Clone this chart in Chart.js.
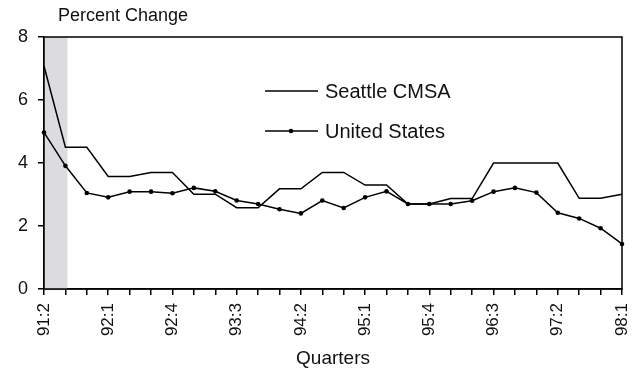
<!DOCTYPE html>
<html>
<head>
<meta charset="utf-8">
<script src="https://cdn.jsdelivr.net/npm/chart.js@4/dist/chart.umd.min.js"></script>
<style>
  body { margin: 0; background: #fff; }
  #grafico { display: block; }
</style>
</head>
<body>
<canvas id="grafico" width="637" height="370"></canvas>
<script>
const quarters = [
    "91:2", "91:3", "91:4",
    "92:1", "92:2", "92:3", "92:4",
    "93:1", "93:2", "93:3", "93:4",
    "94:1", "94:2", "94:3", "94:4",
    "95:1", "95:2", "95:3", "95:4",
    "96:1", "96:2", "96:3", "96:4",
    "97:1", "97:2", "97:3", "97:4",
    "98:1"
];
const seattle = [
    7.08, 4.5, 4.5, 3.57, 3.57, 3.7, 3.7, 3.01, 3.01, 2.58, 2.58, 3.18, 3.18, 3.7,
    3.7, 3.3, 3.3, 2.7, 2.7, 2.87, 2.87, 4.0, 4.0, 4.0, 4.0, 2.88, 2.88, 3.01
];
const unitedStates = [
    4.97, 3.91, 3.05, 2.91, 3.09, 3.09, 3.04, 3.21, 3.1, 2.81, 2.7, 2.53, 2.4, 2.81,
    2.57, 2.91, 3.1, 2.7, 2.7, 2.7, 2.8, 3.09, 3.21, 3.06, 2.42, 2.24, 1.93, 1.43
];
const yTicks = [0, 2, 4, 6, 8];
const recession = ["91:2", "91:3"];

const fuente = "'Liberation Sans', Arial, sans-serif";

// banda gris de la recesion
const bandaGris = {
    id: "bandaGris",
    beforeDatasetsDraw(chart) {
        const ctx = chart.ctx;
        const x = chart.scales.x;
        const area = chart.chartArea;
        const x0 = x.getPixelForValue(quarters.indexOf(recession[0]));
        const x1 = x.getPixelForValue(quarters.indexOf(recession[1])) + 2;
        ctx.save();
        ctx.fillStyle = "#dcdcde";
        ctx.fillRect(x0, area.top, x1 - x0, area.bottom - area.top);
        ctx.restore();
    }
};

// marco, titulo y leyenda
const marco = {
    id: "marco",
    afterDraw(chart) {
        const ctx = chart.ctx;
        const area = chart.chartArea;
        ctx.save();
        ctx.strokeStyle = "#000";
        ctx.lineWidth = 1.5;
        ctx.strokeRect(area.left, area.top, area.right - area.left, area.bottom - area.top);

        ctx.fillStyle = "#111";
        ctx.font = "18px " + fuente;
        ctx.textBaseline = "middle";
        ctx.textAlign = "left";
        ctx.fillText("Percent Change", 58, 16);

        const items = [
            { y: 91, ds: chart.data.datasets[0] },
            { y: 131, ds: chart.data.datasets[1] }
        ];
        ctx.font = "20px " + fuente;
        items.forEach(function (it) {
            ctx.beginPath();
            ctx.strokeStyle = "#000";
            ctx.lineWidth = 1.5;
            ctx.moveTo(265, it.y);
            ctx.lineTo(318, it.y);
            ctx.stroke();
            if (it.ds.pointRadius > 0) {
                ctx.beginPath();
                ctx.fillStyle = "#000";
                ctx.arc(291, it.y, 2.3, 0, Math.PI * 2);
                ctx.fill();
            }
            ctx.fillStyle = "#111";
            ctx.fillText(it.ds.label, 325, it.y + 1);
        });
        ctx.restore();
    }
};

const ctx = document.getElementById("grafico");

const myChart = new Chart(ctx, {
    type: "line",
    data: {
        labels: quarters,
        datasets: [
            {
                label: "Seattle CMSA",
                data: seattle,
                borderColor: "#000",
                borderWidth: 1.5,
                pointRadius: 0,
                tension: 0,
            },
            {
                label: "United States",
                data: unitedStates,
                borderColor: "#000",
                backgroundColor: "#000",
                borderWidth: 1.5,
                pointRadius: 2.3,
                pointBorderWidth: 0,
                tension: 0,
            },
        ],
    },
    options: {
        responsive: false,
        animation: false,
        layout: { padding: { top: 37, right: 15, bottom: 0, left: 0 } },
        plugins: {
            legend: { display: false },
            title: { display: false },
            tooltip: { enabled: false },
        },
        scales: {
            x: {
                offset: false,
                grid: { drawOnChartArea: false, color: "#000", tickLength: 6, lineWidth: 1.5 },
                border: { color: "#000", width: 1.5 },
                ticks: {
                    autoSkip: false,
                    maxRotation: 90,
                    minRotation: 90,
                    padding: 8,
                    color: "#111",
                    font: { family: fuente, size: 17 },
                    callback: function (v, i) {
                        return i % 3 === 0 ? quarters[i] : "";
                    },
                },
                title: {
                    display: true,
                    text: "Quarters",
                    color: "#111",
                    font: { family: fuente, size: 19 },
                    padding: { top: 0, bottom: 0 },
                },
                afterFit: function (scale) {
                    scale.height = 81;
                    scale.paddingLeft = 0;
                    scale.paddingRight = 0;
                },
            },
            y: {
                min: 0,
                max: 8,
                grid: { drawOnChartArea: false, color: "#000", tickLength: 6, lineWidth: 1.5 },
                border: { color: "#000", width: 1.5 },
                afterBuildTicks: function (scale) {
                    scale.ticks = yTicks.map(function (v) { return { value: v }; });
                },
                ticks: {
                    padding: 10,
                    color: "#111",
                    font: { family: fuente, size: 18 },
                },
                afterFit: function (scale) {
                    scale.width = 44;
                },
            },
        },
    },
    plugins: [bandaGris, marco],
});
</script>
</body>
</html>
